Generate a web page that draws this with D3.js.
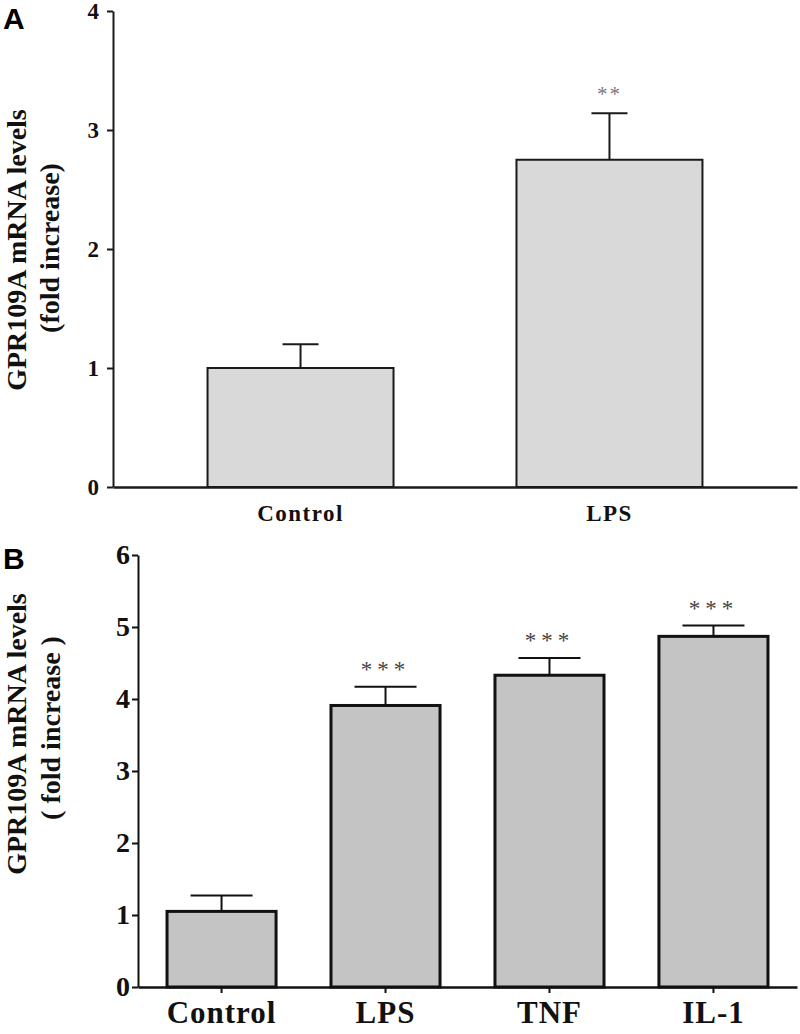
<!DOCTYPE html>
<html>
<head>
<meta charset="utf-8">
<script src="https://cdn.jsdelivr.net/npm/d3@7"></script>
<style>
  html, body { margin: 0; padding: 0; background: #fff; }
  svg { display: block; }
</style>
</head>
<body>
<svg id="chart" width="800" height="1034"></svg>
<script>
// ---- Data ----
const categoriesA = ["Control", "LPS"];
const meansA = [1.0, 2.75];
const errorsA = [0.20, 0.39];
const signifA = ["", "**"];
const ticksA = [0, 1, 2, 3, 4];

const categoriesB = ["Control", "LPS", "TNF", "IL-1"];
const meansB = [1.05, 3.91, 4.33, 4.87];
const errorsB = [0.22, 0.26, 0.24, 0.15];
const signifB = ["", "***", "***", "***"];
const ticksB = [0, 1, 2, 3, 4, 5, 6];

const yLabelLine1 = "GPR109A mRNA levels";
const yLabelA2 = "(fold increase)";
const yLabelB2 = "( fold increase )";

// ---- Drawing ----
const svg = d3.select("#chart");
const serif = "'Liberation Serif', 'Times New Roman', serif";
const sans = "'Liberation Sans', Arial, sans-serif";

function panel(cfg) {
  const g = svg.append("g");
  const x = d3.scaleBand().domain(cfg.cats).range(cfg.xRange)
    .paddingInner(cfg.padIn).paddingOuter(cfg.padOut);
  const y = d3.scaleLinear().domain(cfg.yDomain).range(cfg.yRange);
  const data = cfg.cats.map((c, i) => ({ c, m: cfg.means[i], e: cfg.errs[i], s: cfg.sig[i] }));

  // bars
  g.selectAll("rect.bar").data(data).enter().append("rect")
    .attr("class", "bar")
    .attr("x", d => x(d.c))
    .attr("y", d => y(d.m))
    .attr("width", x.bandwidth())
    .attr("height", d => y(0) - y(d.m))
    .attr("fill", cfg.fill)
    .attr("stroke", cfg.stroke)
    .attr("stroke-width", cfg.barStroke);

  // error bars
  const cx = d => x(d.c) + x.bandwidth() / 2;
  g.selectAll("line.err").data(data).enter().append("line")
    .attr("x1", cx).attr("x2", cx)
    .attr("y1", d => y(d.m)).attr("y2", d => y(d.m + d.e))
    .attr("stroke", cfg.stroke).attr("stroke-width", 2);
  g.selectAll("line.cap").data(data).enter().append("line")
    .attr("x1", d => cx(d) - cfg.capW / 2).attr("x2", d => cx(d) + cfg.capW / 2)
    .attr("y1", d => y(d.m + d.e)).attr("y2", d => y(d.m + d.e))
    .attr("stroke", cfg.stroke).attr("stroke-width", 2);

  // significance stars
  g.selectAll("text.sig").data(data.filter(d => d.s)).enter().append("text")
    .attr("x", cx)
    .attr("y", d => y(d.m + d.e) - cfg.sigGap)
    .attr("text-anchor", "middle")
    .attr("font-family", serif)
    .attr("font-size", cfg.sigSize)
    .attr("letter-spacing", cfg.sigSpacing)
    .attr("fill", cfg.sigColor)
    .text(d => d.s);

  // y axis
  const yAxis = d3.axisLeft(y).tickValues(cfg.yTicks).tickSize(6).tickSizeOuter(0)
    .tickFormat(d3.format("d")).tickPadding(cfg.tickPad);
  const ya = g.append("g").attr("transform", `translate(${cfg.xRange[0]},0)`).call(yAxis);
  ya.select(".domain").attr("stroke", cfg.stroke).attr("stroke-width", 2);
  ya.selectAll(".tick line").attr("stroke", cfg.stroke).attr("stroke-width", 2);
  ya.selectAll(".tick text")
    .attr("font-family", serif).attr("font-weight", "bold")
    .attr("font-size", cfg.tickSize).attr("fill", "#111");

  // x axis
  const xAxis = d3.axisBottom(x).tickSize(cfg.xTickLen).tickSizeOuter(0).tickPadding(cfg.xPad);
  const xa = g.append("g").attr("transform", `translate(0,${y(0)})`).call(xAxis);
  xa.select(".domain").attr("stroke", cfg.stroke).attr("stroke-width", 2.5);
  xa.selectAll(".tick line").attr("stroke", cfg.stroke).attr("stroke-width", 2);
  xa.selectAll(".tick text")
    .attr("font-family", serif).attr("font-weight", "bold")
    .attr("font-size", cfg.xLabelSize).attr("letter-spacing", cfg.xLabelSpacing)
    .attr("fill", "#111");

  // y label (two lines, rotated)
  g.append("text")
    .attr("transform", `translate(${cfg.label1X},${cfg.labelMid}) rotate(-90)`)
    .attr("text-anchor", "middle")
    .attr("font-family", serif).attr("font-weight", "bold")
    .attr("font-size", cfg.labelSize).attr("fill", "#111")
    .text(yLabelLine1);
  g.append("text")
    .attr("transform", `translate(${cfg.label2X},${cfg.labelMid2}) rotate(-90)`)
    .attr("text-anchor", "middle")
    .attr("font-family", serif).attr("font-weight", "bold")
    .attr("font-size", cfg.labelSize).attr("fill", "#111")
    .text(cfg.label2);

  // panel letter
  g.append("text")
    .attr("x", 3).attr("y", cfg.letterY)
    .attr("font-family", sans).attr("font-weight", "bold")
    .attr("font-size", 30).attr("fill", "#000")
    .text(cfg.letter);
}

panel({
  cats: categoriesA, means: meansA, errs: errorsA, sig: signifA,
  xRange: [113, 797], padIn: 0.398, padOut: 0.306,
  yDomain: [0, 4], yRange: [487, 11], yTicks: ticksA,
  fill: "#d9d9d9", stroke: "#1a1a1a", barStroke: 2,
  capW: 36, sigGap: 12, sigSize: 21, sigSpacing: 2, sigColor: "#7a7a7a",
  tickPad: 8, tickSize: 23,
  xTickLen: 0, xPad: 18, xLabelSize: 23, xLabelSpacing: 1.5,
  labelSize: 28, label1X: 26, label2X: 59, labelMid: 250, labelMid2: 248, label2: yLabelA2,
  letter: "A", letterY: 29
});

panel({
  cats: categoriesB, means: meansB, errs: errorsB, sig: signifB,
  xRange: [138, 797], padIn: 0.335, padOut: 0.177,
  yDomain: [0, 6], yRange: [987, 555], yTicks: ticksB,
  fill: "#c4c4c4", stroke: "#111", barStroke: 3,
  capW: 62, sigGap: 10, sigSize: 23, sigSpacing: 5, sigColor: "#444",
  tickPad: 2, tickSize: 28,
  xTickLen: 6, xPad: 8, xLabelSize: 31, xLabelSpacing: 1,
  labelSize: 28, label1X: 26, label2X: 60, labelMid: 734, labelMid2: 728, label2: yLabelB2,
  letter: "B", letterY: 569
});
</script>
</body>
</html>
